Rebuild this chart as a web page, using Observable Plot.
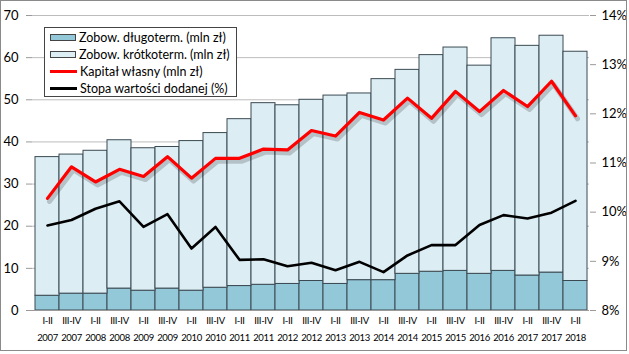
<!DOCTYPE html>
<html><head><meta charset="utf-8">
<script src="https://cdn.jsdelivr.net/npm/d3@7"></script>
<script src="https://cdn.jsdelivr.net/npm/@observablehq/plot@0.6"></script>
<style>
body{margin:0;background:#fff;font-family:Lato,sans-serif}
#wrap{position:relative;width:629px;height:354px;overflow:hidden;background:#fff}
#wrap svg{position:absolute;left:0;top:0}
#frame{position:absolute;left:0;top:0;width:627px;height:351px;border:1.5px solid #8a8a8a;box-sizing:border-box;pointer-events:none}
#legend{position:absolute;left:44px;top:27px;width:193px;height:70px;border:1px solid #444;background:#fff;box-sizing:border-box;font-family:Lato,sans-serif;font-size:12.5px;color:#000;padding-top:1px}
.row{height:17px;display:flex;align-items:center;padding-left:5px}
.sw{width:26px;height:7px;border:1px solid #444;margin-right:3px;box-sizing:border-box}
.ln{width:27px;height:3px;margin-right:3px}
g[aria-label="x-axis tick label"] text{letter-spacing:-0.35px}
</style></head>
<body>
<div id="wrap">
  <div id="chart"></div>
  <div id="legend">
    <div class="row"><div class="sw" style="background:#93c8d9"></div>Zobow. długoterm. (mln zł)</div>
    <div class="row"><div class="sw" style="background:#dcedf4"></div>Zobow. krótkoterm. (mln zł)</div>
    <div class="row"><div class="ln" style="background:#ff0000"></div>Kapitał własny (mln zł)</div>
    <div class="row"><div class="ln" style="background:#000"></div>Stopa wartości dodanej (%)</div>
  </div>
  <div id="frame"></div>
</div>
<script>
const halves = ["I-II","III-IV","I-II","III-IV","I-II","III-IV","I-II","III-IV","I-II","III-IV","I-II","III-IV","I-II","III-IV","I-II","III-IV","I-II","III-IV","I-II","III-IV","I-II","III-IV","I-II"];
const years = ["2007","2007","2008","2008","2009","2009","2010","2010","2011","2011","2012","2012","2013","2013","2014","2014","2015","2015","2016","2016","2017","2017","2018"];
const longTerm = [3.5,4.0,4.0,5.2,4.7,5.2,4.7,5.4,5.8,6.1,6.3,7.0,6.3,7.2,7.2,8.7,9.2,9.4,8.7,9.4,8.3,9.0,7.0];
const shortTerm = [32.9,33.0,33.9,35.2,33.8,33.6,35.5,36.7,39.6,43.1,42.4,43.0,44.7,44.3,47.7,48.4,51.4,53.0,49.4,55.2,54.5,56.2,54.4];
const equity = [26.6,34.1,30.5,33.5,31.8,36.5,31.4,36.1,36.1,38.3,38.1,42.7,41.4,47.0,45.2,50.4,45.6,52.0,47.2,52.2,48.4,54.4,46.2];
const valueAddedRate = [9.73,9.84,10.07,10.22,9.70,9.96,9.26,9.70,9.03,9.04,8.90,8.97,8.82,8.99,8.78,9.12,9.33,9.33,9.74,9.94,9.87,9.99,10.23];
const leftTicks = [0,10,20,30,40,50,60,70];
const rightTicks = [8,9,10,11,12,13,14];

const Y_MAX = 70, P_MIN = 8, P_MAX = 14;
const pctToY = p => (p - P_MIN) / (P_MAX - P_MIN) * Y_MAX;
const yToPct = v => P_MIN + v / Y_MAX * (P_MAX - P_MIN);

const data = halves.map((h, i) => ({
  key: h + " " + years[i], half: h, year: years[i],
  long: longTerm[i], short: shortTerm[i], total: longTerm[i] + shortTerm[i],
  equity: equity[i], rate: valueAddedRate[i]
}));
const keys = data.map(d => d.key);
const byKey = new Map(data.map(d => [d.key, d]));

const chart = Plot.plot({
  width: 629, height: 354,
  marginLeft: 32, marginRight: 40, marginTop: 15, marginBottom: 44,
  style: {fontFamily: "Lato, sans-serif", fontSize: "13px", color: "#000", background: "transparent"},
  x: {type: "band", domain: keys, padding: 0, axis: null, label: null},
  y: {domain: [0, Y_MAX], axis: null, label: null},
  marks: [
    Plot.gridY(leftTicks, {stroke: "#bcbcbc", strokeOpacity: 1}),
    Plot.barY(data, {x: "key", y1: 0, y2: "long", fill: "#93c8d9", stroke: "#3b4a52", strokeWidth: 1, inset: 0}),
    Plot.barY(data, {x: "key", y1: "long", y2: "total", fill: "#dcedf4", stroke: "#3b4a52", strokeWidth: 1, inset: 0}),
    Plot.ruleY([0], {stroke: "#9a9a9a"}),
    Plot.line(data, {x: "key", y: "equity", stroke: "#000", strokeOpacity: 0.18, strokeWidth: 5, dx: 2, dy: 3}),
    Plot.line(data, {x: "key", y: "equity", stroke: "#ff0000", strokeWidth: 3.2}),
    Plot.line(data, {x: "key", y: d => pctToY(d.rate), stroke: "#000", strokeWidth: 2.6}),
    Plot.axisY(leftTicks, {anchor: "left", label: null, tickSize: 6, tickPadding: 8, stroke: "#9a9a9a", fill: "#000", fontSize: 13}),
    Plot.axisY(rightTicks.map(pctToY), {anchor: "right", label: null, tickSize: 6, tickPadding: 6, stroke: "#9a9a9a", fill: "#000", fontSize: 13, tickFormat: v => Math.round(yToPct(v)) + "%"}),
    Plot.axisX(keys, {anchor: "bottom", label: null, tickSize: 0, tickPadding: 7, fontSize: 9.5, fill: "#000", tickFormat: k => byKey.get(k).half}),
    Plot.axisX(keys, {anchor: "bottom", label: null, tickSize: 0, tickPadding: 24, fontSize: 9.5, fill: "#000", tickFormat: k => byKey.get(k).year})
  ]
});
document.getElementById("chart").appendChild(chart);
</script>
</body></html>
